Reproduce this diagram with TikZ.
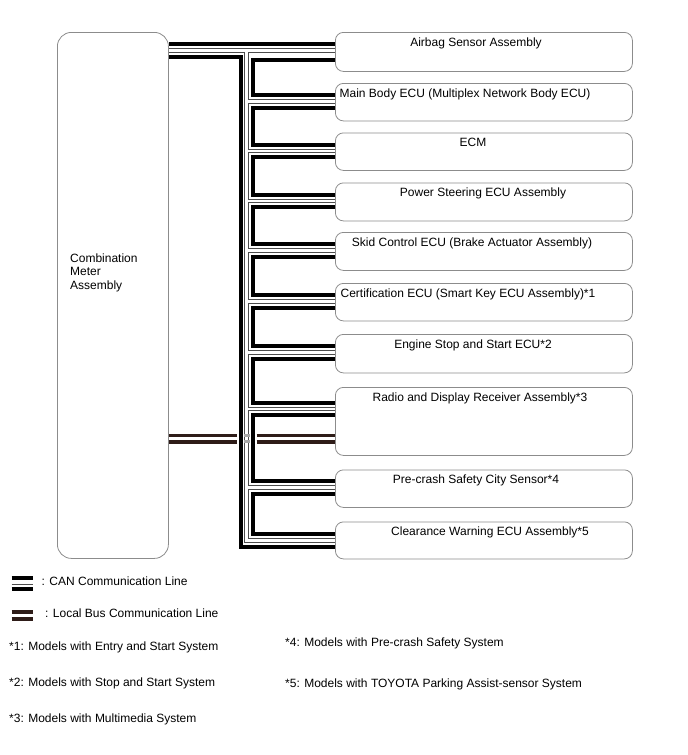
\documentclass[tikz,border=0pt]{standalone}
\usepackage{fontspec}
\setmainfont{Liberation Sans}
\usepackage{xcolor}
\usepackage{tikz}

\definecolor{boxgray}{RGB}{140,140,140}
\definecolor{busbrown}{RGB}{46,28,24}

\tikzset{
  ecubox/.style={draw=boxgray, line width=0.8pt, rounded corners=8pt, minimum width=297pt, anchor=north west, inner sep=0pt},
  ecutext/.style={anchor=base, inner sep=0pt},
  noteline/.style={anchor=base west, inner sep=0pt},
  canline/.style={line width=4pt},
  canmid/.style={draw=gray!60!black, line width=0.7pt, double=white, double distance=2.8pt},
  localbus/.style={draw=busbrown, line width=3.6pt}
}

\begin{document}
\begin{tikzpicture}[x=1pt, y=-1pt, font=\fontsize{12}{13.5}\selectfont]
\useasboundingbox (0,0) rectangle (688,755);

% combination meter
\node[draw=boxgray, line width=0.8pt, rounded corners=14pt, minimum width=111pt, minimum height=526pt, anchor=north west, inner sep=0pt] (meter) at (57,32) {};
\node[anchor=north west, align=left, inner sep=0pt] (metertext) at (70,253.5) {Combination\\Meter\\Assembly};

% ECUs on the bus
\foreach \n/\t/\h/\c/\m/\s in {
  airbag/32/39/476/18.5/{Airbag Sensor Assembly},
  mainbody/83/37.5/465/18.5/{Main Body ECU (Multiplex Network Body ECU)},
  ecm/132.5/37.5/473/18.5/{ECM},
  pssteer/182.5/38/483/18.5/{Power Steering ECU Assembly},
  skid/232/38/472/18.5/{Skid Control ECU (Brake Actuator Assembly)},
  cert/283/37.5/468/18.5/{Certification ECU (Smart Key ECU Assembly)*1},
  engstop/334/38.5/473/18.5/{Engine Stop and Start ECU*2},
  radio/387/68/480/22/{Radio and Display Receiver Assembly*3},
  precrash/469.5/37.5/476/18/{Pre-crash Safety City Sensor*4},
  clearance/521.5/37/490/19/{Clearance Warning ECU Assembly*5}}{
  \node[ecubox, minimum height=\h pt] (\n) at (335,\t) {};
  \node[ecutext] (\n-text) at (\c,\t+14) {\s};
  \coordinate (\n-m) at ([yshift=-\m pt]\n.north west);
  \coordinate (\n-a) at ([yshift=6.3pt]\n-m);
  \coordinate (\n-b) at ([yshift=-6.3pt]\n-m);
}
\coordinate (airbag-b) at ([yshift=-27.5pt]airbag.north west);

% trunk
\coordinate (trunkL) at (240.5,0);
\coordinate (trunkC) at (246.5,0);
\coordinate (trunkR) at (252.5,0);
\coordinate (gapL) at (236.5,0);
\coordinate (gapR) at (256.5,0);
\coordinate (meter-lo) at ([yshift=-24.5pt]meter.north east);

% CAN
\draw[canmid] (meter.east |- airbag-m) -- (airbag-m)
  (trunkC |- airbag-m) |- (clearance-m)
  \foreach \n in {mainbody,ecm,pssteer,skid,cert,engstop,radio,precrash}{(trunkC |- \n-m) -- (\n-m)};
\draw[canline] (meter.east |- airbag-a) -- (airbag-a);
\draw[canline] (meter-lo) -| (trunkL |- clearance-b) -- (clearance-b);
\foreach \p/\q in {airbag/mainbody,mainbody/ecm,ecm/pssteer,pssteer/skid,skid/cert,cert/engstop,engstop/radio,radio/precrash,precrash/clearance}
  \draw[canline] (\p-b) -| (trunkR |- \q-a) -- (\q-a);

% local bus
\coordinate (radio-l1) at ([yshift=-48.3pt]radio.north west);
\coordinate (radio-l2) at ([yshift=-54.7pt]radio.north west);
\draw[localbus] (meter.east |- radio-l1) -- (gapL |- radio-l1) (gapR |- radio-l1) -- (radio-l1)
  (meter.east |- radio-l2) -- (gapL |- radio-l2) (gapR |- radio-l2) -- (radio-l2);
\draw[gray!70, line width=3pt] ([xshift=-3pt]trunkC |- radio-l1) -- ([xshift=3pt]trunkC |- radio-l1)
  ([xshift=-3pt]trunkC |- radio-l2) -- ([xshift=3pt]trunkC |- radio-l2);

% legend
\draw[canline] (11.5,577.7) -- (33.3,577.7) (11.5,589) -- (33.3,589);
\draw[gray!60!black, line width=0.6pt] (11.5,584.3) -- (33.3,584.3);
\node[noteline] (cantext) at (41.5,585.5) {: CAN Communication Line};
\draw[localbus] (11.5,611.7) -- (33.3,611.7) (11.5,618.7) -- (33.3,618.7);
\node[noteline] (bustext) at (45,617.5) {: Local Bus Communication Line};

% notes
\node[noteline] (note1) at (9,650) {*1: Models with Entry and Start System};
\node[noteline] (note2) at (9,686) {*2: Models with Stop and Start System};
\node[noteline] (note3) at (9,722) {*3: Models with Multimedia System};
\node[noteline] (note4) at (285,646) {*4: Models with Pre-crash Safety System};
\node[noteline] (note5) at (285,687) {*5: Models with TOYOTA Parking Assist-sensor System};
\end{tikzpicture}
\end{document}
